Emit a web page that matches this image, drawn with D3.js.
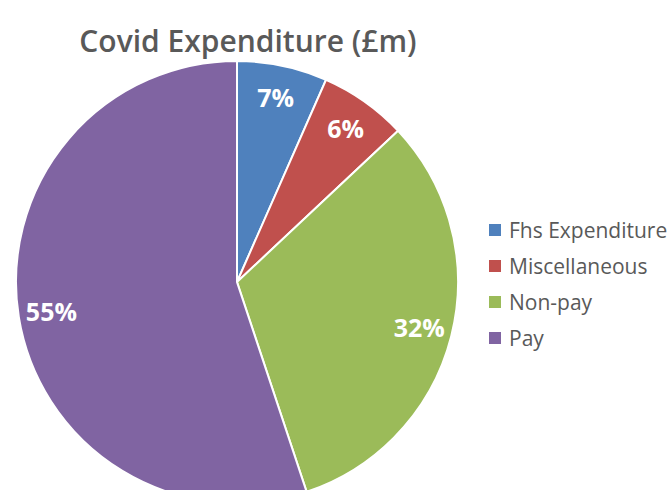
<!DOCTYPE html>
<html>
<head>
<meta charset="utf-8">
<script src="https://cdn.jsdelivr.net/npm/d3@7"></script>
<style>
  body { margin: 0; background: #fff; }
  svg { display: block; }
</style>
</head>
<body>
<div id="chart"></div>
<script>
    var w = 672;
    var h = 490;

    // slice data (share of covid spend)
    var categories = ["Fhs Expenditure", "Miscellaneous", "Non-pay", "Pay"];
    var values = [6.6, 6.4, 31.9, 55.1];
    var colours = ["#4F81BD", "#C0504D", "#9BBB59", "#8064A2"];
    var title = "Covid Expenditure (£m)";

    var cx = 237, cy = 282, radius = 221;
    var labelRadius = 188;

    var svg = d3.select("#chart").append("svg")
        .attr("width", w)
        .attr("height", h);

    var data = categories.map(function(c, i){
        return {name: c, value: values[i], colour: colours[i]};
    });

    var total = d3.sum(values);

    var pie = d3.pie()
        .sort(null)
        .value(function(d){ return d.value; });

    var arc = d3.arc()
        .innerRadius(0)
        .outerRadius(radius);

    var labelArc = d3.arc()
        .innerRadius(labelRadius)
        .outerRadius(labelRadius);

    var g = svg.append("g")
        .attr("transform", "translate(" + cx + "," + cy + ")");

    g.selectAll("path")
        .data(pie(data))
        .enter()
        .append("path")
        .attr("d", arc)
        .style("fill", function(d){ return d.data.colour; })
        .style("stroke", "#fff")
        .style("stroke-width", 2);

    g.selectAll("text")
        .data(pie(data))
        .enter()
        .append("text")
        .attr("transform", function(d){ return "translate(" + labelArc.centroid(d) + ")"; })
        .attr("text-anchor", "middle")
        .attr("dy", "0.36em")
        .style("font-family", "'Open Sans', sans-serif")
        .style("font-weight", "700")
        .style("font-size", "25px")
        .style("fill", "#fff")
        .text(function(d){ return Math.round(d.data.value / total * 100) + "%"; });

    // title
    svg.append("text")
        .attr("x", 248)
        .attr("y", 52)
        .attr("text-anchor", "middle")
        .style("font-family", "'Open Sans', sans-serif")
        .style("font-weight", "600")
        .style("font-size", "30px")
        .style("fill", "#595959")
        .text(title);

    // legend
    var legend = svg.selectAll(".legend")
        .data(data)
        .enter()
        .append("g")
        .attr("class", "legend")
        .attr("transform", function(d, i){ return "translate(489," + (230 + i * 36) + ")"; });

    legend.append("rect")
        .attr("x", 0)
        .attr("y", -6)
        .attr("width", 12)
        .attr("height", 12)
        .style("fill", function(d){ return d.colour; });

    legend.append("text")
        .attr("x", 20)
        .attr("y", 0)
        .attr("dy", "0.36em")
        .style("font-family", "'Open Sans', sans-serif")
        .style("font-size", "21px")
        .style("fill", "#595959")
        .text(function(d){ return d.name; });
</script>
</body>
</html>
